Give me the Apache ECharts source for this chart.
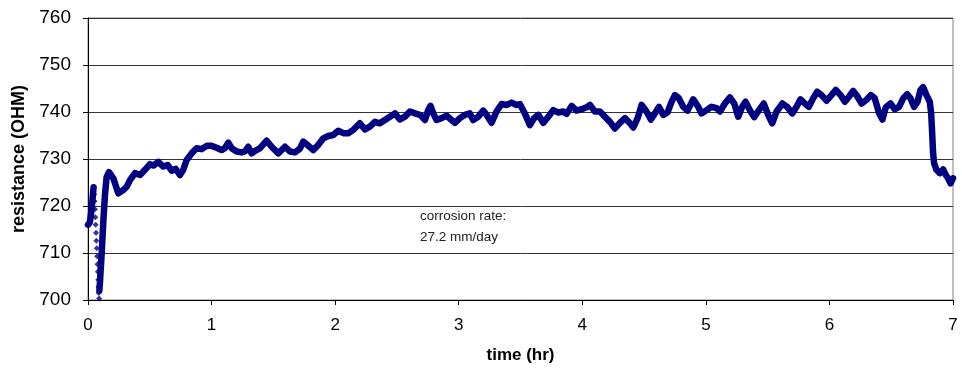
<!DOCTYPE html>
<html>
<head>
<meta charset="utf-8">
<script src="https://cdn.jsdelivr.net/npm/echarts@6/dist/echarts.min.js"></script>
<style>
  html, body { margin: 0; padding: 0; background: #fff; }
  #chart { width: 962px; height: 379px; }
</style>
</head>
<body>
<div id="chart"></div>
<script>
// Resistance log of the corrosion probe (time in hours, resistance in ohm)

// first readings before the sharp dip
const startTime = [0, 0.015, 0.025, 0.035, 0.045];
const startRes  = [716, 716.5, 718.5, 721, 724];

// sharp dip, sampled readings drawn as individual markers
const dipTime = [0.050, 0.053, 0.056, 0.059, 0.062, 0.065, 0.068, 0.071, 0.074, 0.077, 0.080, 0.083, 0.085, 0.087, 0.090];
const dipRes  = [722.5, 721, 719.3, 717.6, 716, 714.3, 712.6, 711, 709.3, 707.6, 706, 704.3, 702.8, 701.5, 700.3];

// recovery and the rest of the run
const runTime = [
  0.092, 0.097, 0.110, 0.124, 0.137, 0.151, 0.170,
  0.205, 0.245, 0.286, 0.313, 0.340, 0.380, 0.421, 0.461, 0.502, 0.529, 0.569, 0.609, 0.645, 0.677,
  0.709, 0.744, 0.771, 0.798, 0.839, 0.879, 0.920, 0.960, 1.000, 1.041, 1.081, 1.108, 1.135, 1.162,
  1.203, 1.243, 1.270, 1.297, 1.324, 1.351, 1.392, 1.446, 1.486, 1.540, 1.594, 1.634, 1.675, 1.715,
  1.742, 1.783, 1.823, 1.863, 1.904, 1.944, 1.985, 2.025, 2.066, 2.106, 2.147, 2.200, 2.241, 2.281,
  2.322, 2.362, 2.403, 2.443, 2.484, 2.524, 2.565, 2.605, 2.646, 2.686, 2.727, 2.753, 2.772, 2.794,
  2.821, 2.861, 2.902, 2.942, 2.969, 3.010, 3.050, 3.090, 3.117, 3.158, 3.198, 3.225, 3.266, 3.306,
  3.347, 3.387, 3.428, 3.468, 3.495, 3.535, 3.576, 3.608, 3.644, 3.684, 3.725, 3.765, 3.806, 3.846,
  3.873, 3.914, 3.954, 3.995, 4.035, 4.062, 4.102, 4.143, 4.183, 4.224, 4.264, 4.305, 4.345, 4.386,
  4.413, 4.448, 4.480, 4.520, 4.555, 4.588, 4.620, 4.655, 4.690, 4.723, 4.750, 4.782, 4.817, 4.852,
  4.898, 4.938, 4.965, 5.006, 5.046, 5.087, 5.114, 5.154, 5.195, 5.230, 5.262, 5.294, 5.321, 5.356,
  5.391, 5.430, 5.469, 5.504, 5.537, 5.572, 5.620, 5.658, 5.699, 5.734, 5.766, 5.801, 5.833, 5.868,
  5.901, 5.936, 5.976, 6.017, 6.052, 6.090, 6.125, 6.160, 6.192, 6.224, 6.260, 6.300, 6.335, 6.367,
  6.402, 6.429, 6.456, 6.494, 6.529, 6.564, 6.597, 6.629, 6.656, 6.686, 6.713, 6.737, 6.758, 6.785,
  6.812, 6.823, 6.829, 6.834, 6.839, 6.847, 6.866, 6.893, 6.920, 6.942, 6.960, 6.980, 7.000
];
const runRes = [
  702, 703.9, 709.6, 716.7, 722.3, 726.2, 727.2,
  725.9, 722.7, 723.4, 724.1, 725.5, 727.0, 726.6, 727.7, 728.9, 728.6, 729.4, 728.4, 728.7, 727.5,
  727.9, 726.6, 727.7, 729.8, 731.2, 732.3, 732.1, 732.8, 732.8, 732.4, 731.9, 732.3, 733.5, 732.3,
  731.6, 731.4, 731.6, 732.6, 731.2, 731.7, 732.3, 733.9, 732.6, 731.2, 732.6, 731.6, 731.4, 732.2,
  733.7, 732.8, 731.9, 733.0, 734.4, 734.9, 735.1, 736.0, 735.5, 735.5, 736.2, 737.6, 736.3, 736.9,
  737.9, 737.6, 738.3, 739.0, 739.7, 738.4, 739.0, 740.1, 739.7, 739.4, 738.3, 740.4, 741.3, 739.7,
  738.3, 738.7, 739.2, 738.3, 737.7, 738.7, 739.4, 739.7, 738.3, 739.0, 740.3, 739.4, 737.7, 740.1,
  741.7, 741.5, 742.0, 741.5, 741.7, 739.7, 737.2, 738.6, 739.4, 737.7, 739.0, 740.4, 739.9, 740.1,
  739.6, 741.3, 740.3, 740.6, 741.0, 741.5, 740.1, 740.1, 739.0, 737.9, 736.5, 737.7, 738.7, 737.6,
  736.7, 738.7, 741.5, 740.1, 738.4, 739.7, 741.1, 739.4, 739.9, 742.2, 743.6, 742.9, 741.1, 740.3,
  742.7, 741.1, 739.7, 740.4, 741.1, 740.8, 740.1, 741.8, 743.1, 741.8, 739.0, 741.1, 742.2, 740.4,
  738.9, 740.4, 741.8, 739.4, 737.6, 740.1, 741.8, 741.1, 739.7, 741.1, 742.7, 741.8, 741.1, 742.9,
  744.3, 743.6, 742.4, 743.6, 744.7, 743.6, 742.2, 743.3, 744.5, 743.4, 741.8, 742.6, 743.6, 742.9,
  739.7, 738.4, 741.0, 741.8, 740.6, 741.1, 742.9, 743.8, 742.9, 741.1, 742.2, 744.7, 745.3, 743.6,
  742.2, 739.7, 736.9, 734.0, 731.2, 729.1, 727.7, 727.0, 727.8, 726.6, 725.9, 724.8, 725.9
];

const xTicks = [0, 7, 1];        // min, max, step in hours
const yTicks = [700, 760, 10];   // min, max, step in ohm
const noteLines = ['corrosion rate:', '27.2 mm/day'];

const NAVY = '#000080';
const FONT = '"Liberation Sans", Arial, sans-serif';

const zip = (xs, ys) => xs.map((x, i) => [x, ys[i]]);

const chart = echarts.init(document.getElementById('chart'), null, { renderer: 'canvas' });

chart.setOption({
  animation: false,
  backgroundColor: '#ffffff',
  grid: {
    left: 88, right: 9, top: 18, bottom: 79,
    show: true, borderColor: '#808080', borderWidth: 1
  },
  xAxis: {
    type: 'value',
    min: xTicks[0], max: xTicks[1], interval: xTicks[2],
    name: 'time (hr)',
    nameLocation: 'middle',
    nameGap: 47,
    nameTextStyle: { fontFamily: FONT, fontSize: 17, fontWeight: 'bold', color: '#000' },
    axisLine: { show: true, onZero: false, lineStyle: { color: '#000', width: 1 } },
    axisTick: { show: true, inside: false, length: 5, lineStyle: { color: '#000' } },
    axisLabel: { fontFamily: FONT, fontSize: 17, color: '#000', margin: 17 },
    splitLine: { show: false }
  },
  yAxis: {
    type: 'value',
    min: yTicks[0], max: yTicks[1], interval: yTicks[2],
    name: 'resistance (OHM)',
    nameLocation: 'middle',
    nameGap: 60,
    nameRotate: 90,
    nameTextStyle: { fontFamily: FONT, fontSize: 18, fontWeight: 'bold', color: '#000' },
    axisLine: { show: true, onZero: false, lineStyle: { color: '#000', width: 1 } },
    axisTick: { show: true, inside: false, length: 5, lineStyle: { color: '#000' } },
    axisLabel: { fontFamily: FONT, fontSize: 19, color: '#000', margin: 17 },
    splitLine: { show: true, lineStyle: { color: '#333', width: 1 } }
  },
  series: [
    {
      type: 'line',
      data: zip(startTime, startRes),
      showSymbol: false,
      lineStyle: { color: NAVY, width: 6.5, join: 'round', cap: 'round' },
      z: 3
    },
    {
      type: 'scatter',
      data: zip(dipTime, dipRes),
      symbol: 'diamond',
      symbolSize: 6,
      itemStyle: { color: NAVY },
      z: 3
    },
    {
      type: 'line',
      data: zip(runTime, runRes),
      showSymbol: false,
      lineStyle: { color: NAVY, width: 6.5, join: 'round', cap: 'round' },
      z: 3
    }
  ],
  graphic: [
    {
      type: 'text',
      left: 420, top: 206,
      style: {
        text: noteLines.join('\n'),
        font: '13.5px ' + FONT,
        fill: '#222',
        lineHeight: 21
      },
      z: 10
    }
  ]
});
</script>
</body>
</html>
